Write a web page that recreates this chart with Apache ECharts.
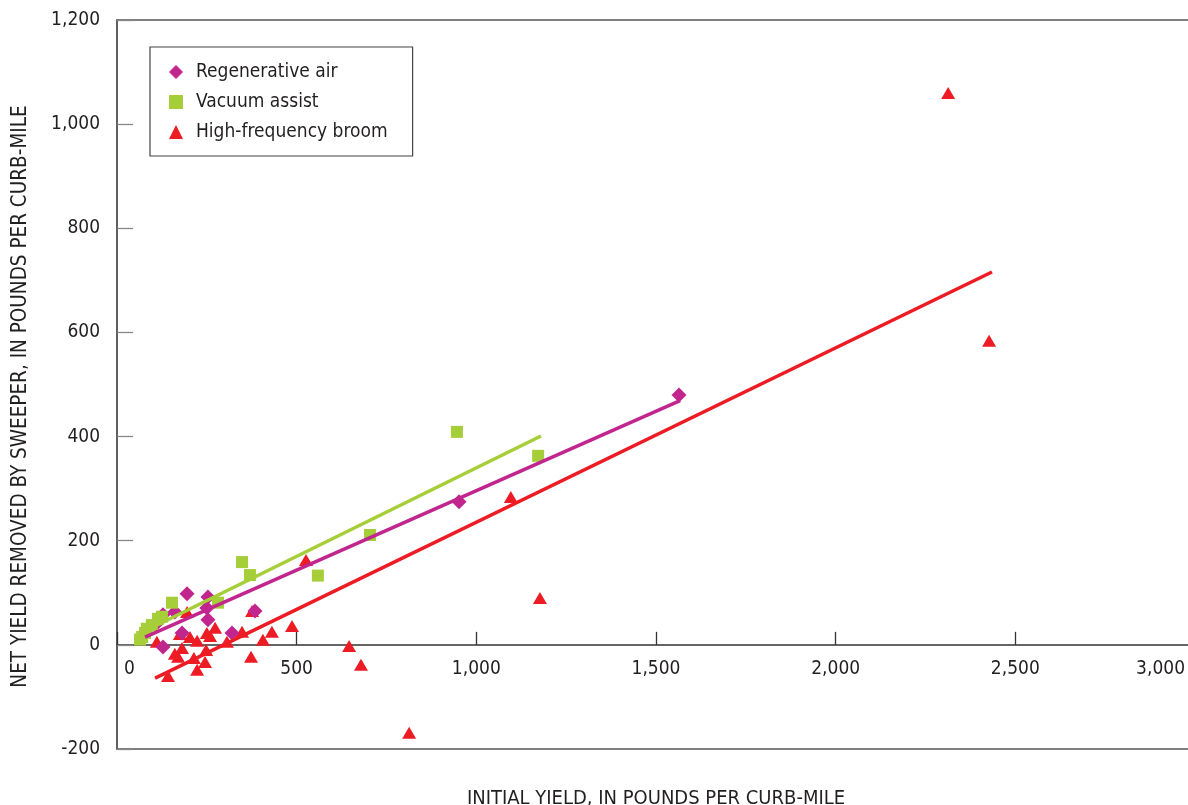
<!DOCTYPE html>
<html>
<head>
<meta charset="utf-8">
<script src="https://cdn.jsdelivr.net/npm/echarts@6/dist/echarts.min.js"></script>
<style>
html,body{margin:0;padding:0;background:#fff;}
#chart{width:1188px;height:805px;}
</style>
</head>
<body>
<div id="chart"></div>
<script>
// Series names
var seriesNames = ['Regenerative air', 'Vacuum assist', 'High-frequency broom'];

// [initial yield, net yield removed]
var regenerativeAir = [
  [128, -4], [114, 44], [128, 58], [161, 63], [181, 23], [195, 98],
  [253, 92], [253, 48], [250, 71], [320, 23], [384, 65], [952, 275], [1564, 480]
];
var vacuumAssist = [
  [64, 10], [70, 15], [78, 23], [83, 31], [97, 38], [114, 50], [125, 54],
  [153, 81], [281, 81], [348, 159], [370, 134], [559, 133], [704, 211],
  [946, 409], [1172, 363]
];
var highFrequencyBroom = [
  [111, 6], [142, -60], [161, -17], [170, -23], [175, 21], [181, -6], [195, 63],
  [203, 15], [214, -25], [223, 8], [223, -48], [245, -33], [248, -10],
  [250, 23], [259, 17], [273, 33], [306, 6], [348, 25], [373, -23], [376, 65],
  [406, 10], [431, 25], [487, 36], [526, 163], [646, -2], [679, -38],
  [813, -169], [1096, 284], [1177, 90], [2313, 1060], [2427, 584]
];

// Fitted trend lines (end points)
var regenerativeAirFit = [[78, 15], [1567, 469]];
var vacuumAssistFit = [[50, 17], [1180, 401]];
var highFrequencyBroomFit = [[106, -64], [2435, 716]];

// Axis ticks
var xTicks = [0, 500, 1000, 1500, 2000, 2500, 3000];
var yTicks = [-200, 0, 200, 400, 600, 800, 1000, 1200];

var colors = ['#C1268E', '#A6CE39', '#ED1C24'];
var FONT = '"Liberation Sans Narrow", "DejaVu Sans Condensed", "Roboto", sans-serif';

function fmt(v) { return Number(v).toLocaleString('en-US'); }

var chart = echarts.init(document.getElementById('chart'), null, {renderer: 'canvas'});
chart.setOption({
  backgroundColor: '#ffffff',
  animation: false,
  textStyle: {fontFamily: FONT},
  grid: {
    left: 117, top: 20, width: 1078, height: 729,
    containLabel: false, outerBoundsMode: 'none',
    show: true, borderColor: '#555', borderWidth: 1.5, backgroundColor: 'transparent'
  },
  legend: {
    orient: 'vertical',
    left: 150, top: 47,
    padding: [15, 25, 14, 19],
    itemGap: 10,
    itemWidth: 14, itemHeight: 14,
    borderColor: '#444', borderWidth: 1.2,
    textStyle: {fontFamily: FONT, fontSize: 19, color: '#231F20', lineHeight: 20, padding: [0, 0, 0, 8]},
    data: [
      {name: seriesNames[0], icon: 'diamond'},
      {name: seriesNames[1], icon: 'rect'},
      {name: seriesNames[2], icon: 'triangle'}
    ]
  },
  xAxis: {
    type: 'value',
    min: xTicks[0], max: xTicks[xTicks.length - 1], interval: 500,
    name: 'INITIAL YIELD, IN POUNDS PER CURB-MILE',
    nameLocation: 'middle', nameGap: 40,
    nameTextStyle: {fontFamily: FONT, fontSize: 20, color: '#231F20'},
    axisLine: {show: true, onZero: true, lineStyle: {color: '#333', width: 1.5}},
    axisTick: {show: true, inside: true, length: 13, lineStyle: {color: '#333', width: 1.3}},
    splitLine: {show: false},
    axisLabel: {
      margin: -89, fontFamily: FONT, fontSize: 19, color: '#231F20',
      alignMinLabel: 'left', alignMaxLabel: 'right',
      formatter: function (v) {
        if (v === xTicks[0]) return '{min|' + fmt(v) + '}';
        if (v === xTicks[xTicks.length - 1]) return '{max|' + fmt(v) + '}';
        return fmt(v);
      },
      rich: {
        min: {fontFamily: FONT, fontSize: 19, color: '#231F20', padding: [0, 0, 0, 7]},
        max: {fontFamily: FONT, fontSize: 19, color: '#231F20', padding: [0, 10, 0, 0]}
      }
    }
  },
  yAxis: {
    type: 'value',
    min: yTicks[0], max: yTicks[yTicks.length - 1], interval: 200,
    name: 'NET YIELD REMOVED BY SWEEPER, IN POUNDS PER CURB-MILE',
    nameLocation: 'middle', nameGap: 86,
    nameTextStyle: {fontFamily: FONT, fontSize: 20.5, color: '#231F20', padding: [0, 24, 0, 0]},
    axisLine: {show: true, onZero: false, lineStyle: {color: '#555', width: 1.5}},
    axisTick: {show: true, inside: true, length: 16, lineStyle: {color: '#888', width: 1.3}},
    splitLine: {show: false},
    axisLabel: {margin: 17, fontFamily: FONT, fontSize: 19, color: '#231F20', formatter: fmt}
  },
  series: [
    {
      name: seriesNames[2], type: 'scatter', symbol: 'triangle', symbolSize: [14, 12],
      itemStyle: {color: colors[2], opacity: 1}, data: highFrequencyBroom, z: 3
    },
    {
      name: seriesNames[0], type: 'scatter', symbol: 'diamond', symbolSize: 15,
      itemStyle: {color: colors[0], opacity: 1}, data: regenerativeAir, z: 3
    },
    {
      name: seriesNames[1], type: 'scatter', symbol: 'rect', symbolSize: 12,
      itemStyle: {color: colors[1], opacity: 1}, data: vacuumAssist, z: 3
    },
    {
      name: 'fit-vac', type: 'line', data: vacuumAssistFit, showSymbol: false, symbol: 'none',
      lineStyle: {color: colors[1], width: 3.5}, z: 4, silent: true
    },
    {
      name: 'fit-regen', type: 'line', data: regenerativeAirFit, showSymbol: false, symbol: 'none',
      lineStyle: {color: colors[0], width: 3.5}, z: 4, silent: true
    },
    {
      name: 'fit-broom', type: 'line', data: highFrequencyBroomFit, showSymbol: false, symbol: 'none',
      lineStyle: {color: colors[2], width: 3.5}, z: 4, silent: true
    }
  ]
});
</script>
</body>
</html>
